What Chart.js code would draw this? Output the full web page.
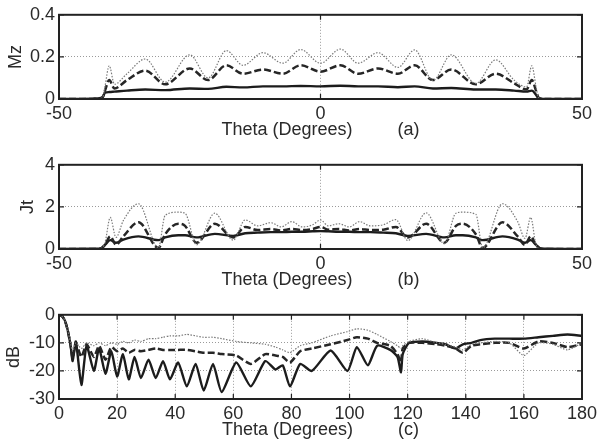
<!DOCTYPE html>
<html>
<head>
<meta charset="utf-8">
<script src="https://cdn.jsdelivr.net/npm/chart.js@4.4.1/dist/chart.umd.min.js"></script>
<style>
  html, body { margin: 0; padding: 0; background: #fff; overflow: hidden; }
  canvas { display: block; }
</style>
</head>
<body>
<canvas id="chartA" width="603" height="150"></canvas>
<canvas id="chartB" width="603" height="150"></canvas>
<canvas id="chartC" width="603" height="150"></canvas>
<script>
// ---- (a) Mz vs theta ----
const thetaA = [-50, -43.5, -42, -41.6, -41.2, -40.4, -39.4, -37, -33.5, -29.7, -25, -21.5, -18, -14.8, -11, -7.2, -3.8, 0,
  3.8, 7.2, 11, 14.8, 18, 21.5, 25, 29.7, 33.5, 37, 39.4, 40.4, 41.2, 41.6, 42, 43.5, 50];
const mzSolid = [0, 0.002, 0.005, 0.012, 0.03, 0.033, 0.035, 0.04, 0.045, 0.042, 0.05, 0.048, 0.058, 0.055, 0.06, 0.06, 0.062, 0.06,
  0.063, 0.06, 0.06, 0.056, 0.06, 0.05, 0.052, 0.045, 0.045, 0.04, 0.035, 0.04, 0.02, 0.005, 0.002, 0, 0];
const mzDashed = [0, 0, 0.002, 0.01, 0.04, 0.09, 0.05, 0.09, 0.135, 0.07, 0.145, 0.09, 0.16, 0.12, 0.14, 0.12, 0.16, 0.13,
  0.16, 0.12, 0.145, 0.12, 0.16, 0.09, 0.14, 0.07, 0.12, 0.075, 0.045, 0.09, 0.04, 0.01, 0.002, 0, 0];
const mzDotted = [0, 0, 0.003, 0.01, 0.06, 0.158, 0.07, 0.12, 0.19, 0.08, 0.21, 0.1, 0.23, 0.16, 0.22, 0.17, 0.235, 0.17,
  0.237, 0.17, 0.22, 0.15, 0.233, 0.088, 0.21, 0.074, 0.186, 0.09, 0.057, 0.158, 0.06, 0.01, 0.003, 0, 0];
const xTicksAB = [-50, 0, 50];
const yTicksA = [0, 0.2, 0.4];

// ---- (b) Jt vs theta ----
const thetaB = [-50, -43, -42, -41.2, -40.2, -39.1, -37.7, -34.8, -31, -29.7, -27.2, -25.9, -23.7, -20.2, -16.7, -14.4,
  -12, -9.5, -7.5, -5.5, -3.5, -1.5, 0, 1.5, 3.5, 5.5, 7.5, 9.5, 12,
  14.4, 16.7, 20.2, 23.7, 25.9, 27.2, 29.7, 31, 34.8, 37.7, 39.1, 40.2, 41.2, 42, 43, 50];
const jtSolid = [0, 0.01, 0.03, 0.2, 0.42, 0.3, 0.45, 0.6, 0.42, 0.55, 0.65, 0.65, 0.55, 0.72, 0.62, 0.75,
  0.78, 0.8, 0.8, 0.82, 0.82, 0.84, 0.85, 0.84, 0.82, 0.82, 0.8, 0.8, 0.78,
  0.75, 0.62, 0.72, 0.55, 0.65, 0.65, 0.55, 0.42, 0.6, 0.45, 0.3, 0.42, 0.2, 0.03, 0.01, 0];
const jtDashed = [0, 0, 0.02, 0.2, 0.6, 0.2, 0.6, 1.27, 0.05, 0.7, 1.2, 1.1, 0.3, 1.2, 0.55, 1.05,
  0.9, 0.95, 0.88, 0.95, 0.9, 0.95, 1.05, 0.92, 0.95, 0.88, 0.95, 0.9, 0.92,
  1.05, 0.55, 1.2, 0.3, 1.1, 1.2, 0.7, 0.05, 1.27, 0.6, 0.2, 0.6, 0.2, 0.02, 0, 0];
const jtDotted = [0, 0, 0.02, 0.3, 1.5, 0.55, 1.35, 2.15, 0.05, 1.6, 1.75, 1.7, 0.2, 1.7, 0.42, 1.38,
  1.1, 1.25, 1.05, 1.3, 1.05, 1.15, 1.38, 1.1, 1.2, 1.05, 1.3, 1.1, 1.15,
  1.4, 0.4, 1.72, 0.25, 1.7, 1.75, 1.65, 0.05, 2.15, 1.3, 0.5, 1.5, 0.2, 0.02, 0, 0];
const yTicksB = [0, 2, 4];

// ---- (c) dB vs theta ----
const thetaC = [0, 1, 2, 3, 4, 4.7, 5.8, 7.7, 9.5, 12, 13.8, 16, 18, 20, 22, 24, 26, 28.2, 30.8, 33.3,
  35.8, 38.2, 41, 44, 47, 49.8, 53, 56, 61, 66, 71, 74.5, 77, 79.5, 83, 87, 93.5, 99.3, 102.5, 106.3,
  109.5, 114, 116.5, 117.7, 118.3, 120.5, 125, 130, 133, 136.5, 139, 142, 145, 150, 155, 160, 165, 170, 175, 180];
const dbSolid = [0, -0.5, -2, -5.5, -11, -16.5, -9.5, -25, -11, -20, -12, -21, -13, -22, -14, -23, -15, -22.5, -16, -22.5,
  -16.5, -23, -17, -25.5, -17.5, -27, -17.5, -27.5, -17, -25.5, -16.5, -19.5, -18, -25.5, -17.5, -20, -12.7, -20, -11.5, -18,
  -11, -12.5, -15, -20.5, -14, -10, -9.5, -10, -10.5, -12, -10.5, -10, -9, -8.5, -8.5, -8.5, -8, -7.5, -7, -7.5];
const dbDashed = [0, -0.5, -2, -5.5, -11, -15.5, -10, -15, -10.5, -15, -11, -16, -11.5, -13, -12, -13.5, -12.5, -13, -12.5, -12,
  -12.5, -12.5, -12.5, -12.5, -13, -13.5, -13.5, -14, -14.5, -17.5, -14, -14.5, -15, -17, -13, -12, -10.5, -9, -8, -8.5,
  -10, -11, -14, -17, -12, -10, -10, -10.5, -11, -12, -13.5, -11, -10.5, -10, -10, -12, -9.5, -10, -11.5, -10.5];
const dbDotted = [0, -0.5, -2, -5.5, -10, -13, -10, -12, -10, -11, -10, -11, -10, -10.5, -9.5, -10, -9, -9.5, -8.5, -8.5,
  -8, -7.5, -7.5, -7, -7.5, -8, -8, -8.5, -9.5, -10, -10.5, -11.5, -12.5, -13.5, -11, -10, -7.5, -6, -5, -5.5,
  -7, -9.5, -11, -12, -11, -9.5, -8.5, -10, -10.5, -11.5, -12.5, -10.5, -10, -9.5, -10, -14.5, -10, -10.5, -12.5, -10];
const xTicksC = [0, 20, 40, 60, 80, 100, 120, 140, 160, 180];
const yTicksC = [-30, -20, -10, 0];

Chart.defaults.font.family = '"Liberation Sans", Arial, sans-serif';
Chart.defaults.font.size = 18;
Chart.defaults.color = '#2a2a2a';

// box around the plot plus small inward tick marks (MATLAB style)
const frame = {
  id: 'frame',
  afterDatasetsDraw(chart) {
    const { ctx, chartArea: a, scales: { x, y } } = chart;
    ctx.save();
    ctx.strokeStyle = '#222';
    ctx.lineWidth = 2;
    ctx.strokeRect(a.left, a.top, a.right - a.left, a.bottom - a.top);
    ctx.lineWidth = 1.2;
    ctx.beginPath();
    x.ticks.forEach(t => {
      const p = x.getPixelForValue(t.value);
      ctx.moveTo(p, a.bottom); ctx.lineTo(p, a.bottom - 5);
      ctx.moveTo(p, a.top); ctx.lineTo(p, a.top + 5);
    });
    y.ticks.forEach(t => {
      const p = y.getPixelForValue(t.value);
      ctx.moveTo(a.left, p); ctx.lineTo(a.left + 5, p);
      ctx.moveTo(a.right, p); ctx.lineTo(a.right - 5, p);
    });
    ctx.stroke();
    ctx.restore();
  }
};

function pts(xs, ys) {
  return xs.map((v, i) => ({ x: v, y: ys[i] }));
}

function series(xs, solid, dashed, dotted, curve) {
  const common = { pointRadius: 0, fill: false, ...curve };
  return [
    { data: pts(xs, dotted), borderColor: '#7a7a7a', borderWidth: 1.2, borderDash: [1.5, 1.5], ...common },
    { data: pts(xs, dashed), borderColor: '#262626', borderWidth: 2.5, borderDash: [7, 3], ...common },
    { data: pts(xs, solid), borderColor: '#1c1c1c', borderWidth: 2.4, ...common }
  ];
}

function gridColor(min, max) {
  return c => (c.tick && (c.tick.value === min || c.tick.value === max)) ? 'rgba(0,0,0,0)' : '#9a9a9a';
}

function scales(xTicks, yTicks, yTitle, yTitlePad, xTitle) {
  const xMin = xTicks[0], xMax = xTicks[xTicks.length - 1];
  const yMin = yTicks[0], yMax = yTicks[yTicks.length - 1];
  return {
    x: {
      type: 'linear', min: xMin, max: xMax,
      afterBuildTicks: s => { s.ticks = xTicks.map(v => ({ value: v })); },
      afterFit: s => { s.height = 51; },
      grid: { color: gridColor(xMin, xMax), lineWidth: 1, drawTicks: false },
      border: { display: false, dash: [1, 2] },
      ticks: { padding: 4, maxRotation: 0, autoSkip: false, callback: v => String(v) },
      title: { display: true, text: xTitle, padding: { top: 0, bottom: 9 } }
    },
    y: {
      type: 'linear', min: yMin, max: yMax,
      afterBuildTicks: s => { s.ticks = yTicks.map(v => ({ value: v })); },
      afterFit: s => { s.width = 59; },
      grid: { color: gridColor(yMin, yMax), lineWidth: 1, drawTicks: false },
      border: { display: false, dash: [1, 2] },
      ticks: { padding: 4, autoSkip: false, callback: v => String(v) },
      title: { display: true, text: yTitle, padding: { top: yTitlePad, bottom: 0 } }
    }
  };
}

const gap = '\u00a0'.repeat(9);

function makeChart(id, datasets, sc) {
  return new Chart(document.getElementById(id), {
    type: 'line',
    data: { datasets },
    options: {
      responsive: false,
      devicePixelRatio: 1,
      animation: false,
      layout: { padding: { top: 13, right: 21, left: 0, bottom: 0 } },
      plugins: { legend: { display: false }, tooltip: { enabled: false } },
      scales: sc
    },
    plugins: [frame]
  });
}

makeChart('chartA', series(thetaA, mzSolid, mzDashed, mzDotted, { cubicInterpolationMode: 'monotone' }),
  scales(xTicksAB, yTicksA, 'Mz', 5, 'Theta (Degrees)' + gap + '(a)'));
makeChart('chartB', series(thetaB, jtSolid, jtDashed, jtDotted, { cubicInterpolationMode: 'monotone' }),
  scales(xTicksAB, yTicksB, 'Jt', 17, 'Theta (Degrees)' + gap + '(b)'));
makeChart('chartC', series(thetaC, dbSolid, dbDashed, dbDotted, { tension: 0.2 }),
  scales(xTicksC, yTicksC, 'dB', 3, 'Theta (Degrees)' + gap + '(c)'));
</script>
</body>
</html>
